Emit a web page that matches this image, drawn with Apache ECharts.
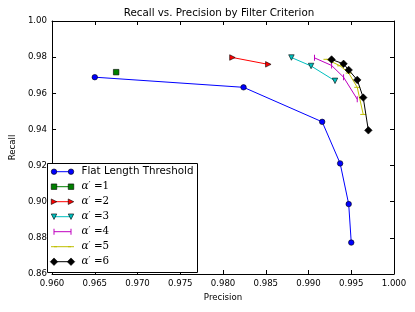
<!DOCTYPE html>
<html>
<head>
<meta charset="utf-8">
<script src="https://cdn.jsdelivr.net/npm/echarts@6/dist/echarts.min.js"></script>
<style>html,body{margin:0;padding:0;background:#fff}#c{width:415px;height:312px}</style>
</head>
<body>
<div id="c"></div>
<script>
// ---- data ----
const xTicks = [0.960, 0.965, 0.970, 0.975, 0.980, 0.985, 0.990, 0.995, 1.000];
const yTicks = [0.86, 0.88, 0.90, 0.92, 0.94, 0.96, 0.98, 1.00];
const seriesNames = ['Flat Length Threshold', "α′ =1", "α′ =2", "α′ =3", "α′ =4", "α′ =5", "α′ =6"];
const precisionFlat = [0.9650, 0.9824, 0.9916, 0.9937, 0.9947, 0.9950];
const recallFlat    = [0.9689, 0.9633, 0.9442, 0.9212, 0.8987, 0.8774];
const precisionA1 = [0.9675];
const recallA1    = [0.9717];
const precisionA2 = [0.9811, 0.9853];
const recallA2    = [0.9798, 0.9760];
const precisionA3 = [0.9880, 0.9903, 0.9931];
const recallA3    = [0.9798, 0.9751, 0.9669];
const precisionA4 = [0.9907, 0.9927, 0.9941, 0.9957];
const recallA4    = [0.9796, 0.9754, 0.9689, 0.9567];
const precisionA5 = [0.9921, 0.9937, 0.9947, 0.9957, 0.9964];
const recallA5    = [0.9788, 0.9752, 0.9712, 0.9633, 0.9483];
const precisionA6 = [0.9927, 0.9941, 0.9947, 0.9957, 0.9964, 0.9970];
const recallA6    = [0.9787, 0.9763, 0.9729, 0.9674, 0.9576, 0.9395];

const allX = [precisionFlat, precisionA1, precisionA2, precisionA3, precisionA4, precisionA5, precisionA6];
const allY = [recallFlat, recallA1, recallA2, recallA3, recallA4, recallA5, recallA6];

// ---- styles ----
const colors = ['#0000ff', '#008000', '#ff0000', '#00bfbf', '#bf00bf', '#bfbf00', '#000000'];
const symbols = ['circle', 'rect', 'path://M0,0L10,5L0,10Z', 'path://M0,0L10,0L5,10Z', 'rect', 'rect', 'diamond'];
const symSizes = [5.5, 5.5, 5.5, 5.5, [1, 6], [6, 1], 7.5];
const borders = [0.6, 0.6, 0.6, 0.6, 0, 0, 0.6];

const zip = (a, b) => a.map((v, i) => [v, b[i]]);

const series = allX.map((xs, i) => ({
  name: seriesNames[i],
  type: 'line',
  data: zip(xs, allY[i]),
  symbol: symbols[i],
  symbolSize: symSizes[i],
  showSymbol: true,
  animation: false,
  lineStyle: { color: colors[i], width: 1 },
  itemStyle: { color: colors[i], borderColor: '#000', borderWidth: borders[i] },
  z: 2 + i
}));

const FONT = 'DejaVu Sans';
const axisCommon = {
  type: 'value',
  axisLine: { show: true, onZero: false, lineStyle: { color: '#000', width: 1 } },
  axisTick: { show: true, inside: true, length: 4, lineStyle: { color: '#000', width: 1 } },
  splitLine: { show: false },
};

// ---- legend drawn as graphics ----
const legLeft = 47.5, legTop = 163.5, legW = 150, legH = 109;
const rowY0 = 171.7, rowGap = 15;
const graphics = [{
  type: 'rect', shape: { x: legLeft, y: legTop, width: legW, height: legH },
  style: { fill: '#fff', stroke: '#000', lineWidth: 1 }, z: 100
}];
seriesNames.forEach((name, i) => {
  const y = rowY0 + i * rowGap;
  graphics.push({ type: 'line', shape: { x1: 54, y1: y, x2: 71, y2: y },
    style: { stroke: colors[i], lineWidth: 1 }, z: 101 });
  [54, 71].forEach(cx => {
    const sz = symSizes[i];
    const w = Array.isArray(sz) ? sz[0] : sz, h = Array.isArray(sz) ? sz[1] : sz;
    let el;
    if (i === 0) el = { type: 'circle', shape: { cx: cx, cy: y, r: 2.75 } };
    else if (i === 1 || i === 4 || i === 5) el = { type: 'rect', shape: { x: cx - w / 2, y: y - h / 2, width: w, height: h } };
    else if (i === 2) el = { type: 'polygon', shape: { points: [[cx - 2.75, y - 2.75], [cx + 2.75, y], [cx - 2.75, y + 2.75]] } };
    else if (i === 3) el = { type: 'polygon', shape: { points: [[cx - 2.75, y - 2.75], [cx + 2.75, y - 2.75], [cx, y + 2.75]] } };
    else el = { type: 'polygon', shape: { points: [[cx, y - 3.75], [cx + 3.75, y], [cx, y + 3.75], [cx - 3.75, y]] } };
    el.style = { fill: colors[i], stroke: borders[i] ? '#000' : null, lineWidth: borders[i] };
    el.z = 102;
    graphics.push(el);
  });
  if (i === 0) {
    graphics.push({ type: 'text', x: 81.5, y: y, z: 103,
      style: { text: name, font: '10.3px "DejaVu Sans"', fill: '#000', verticalAlign: 'middle' } });
  } else {
    const num = name.split('=')[1];
    graphics.push({ type: 'text', x: 81.5, y: y, z: 103,
      style: { text: '{a|α}{p|′} {e|=' + num + '}', verticalAlign: 'middle', fill: '#000',
        rich: {
          a: { fontFamily: 'DejaVu Serif', fontStyle: 'italic', fontSize: 10.5, fill: '#000' },
          p: { fontFamily: 'DejaVu Serif', fontSize: 9, fill: '#000', verticalAlign: 'top', padding: [0, 0, 3, 0] },
          e: { fontFamily: 'DejaVu Serif', fontSize: 10.3, fill: '#000' }
        } } });
  }
});

const chart = echarts.init(document.getElementById('c'), null, { renderer: 'canvas' });
chart.setOption({
  animation: false,
  backgroundColor: '#fff',
  title: {
    text: 'Recall vs. Precision by Filter Criterion',
    left: 219, top: 8, padding: 0, textAlign: 'center',
    textStyle: { fontFamily: FONT, fontSize: 10.3, fontWeight: 'normal', color: '#000' }
  },
  grid: { left: 43, right: 21, top: 21, bottom: 38, containLabel: false },
  xAxis: [
    Object.assign({}, axisCommon, {
      position: 'bottom', min: xTicks[0], max: xTicks[xTicks.length - 1], interval: 0.005,
      name: 'Precision', nameLocation: 'middle', nameGap: 17,
      nameTextStyle: { fontFamily: FONT, fontSize: 8.6, color: '#000', verticalAlign: 'top' },
      axisLabel: { show: true, margin: 5, fontFamily: FONT, fontSize: 8.6, color: '#000',
        formatter: v => v.toFixed(3) }
    }),
    Object.assign({}, axisCommon, {
      position: 'top', min: xTicks[0], max: xTicks[xTicks.length - 1], interval: 0.005,
      axisLabel: { show: false }
    })
  ],
  yAxis: [
    Object.assign({}, axisCommon, {
      position: 'left', min: yTicks[0], max: yTicks[yTicks.length - 1], interval: 0.02,
      name: 'Recall', nameLocation: 'middle', nameGap: 26, nameRotate: 90,
      nameTextStyle: { fontFamily: FONT, fontSize: 8.6, color: '#000' },
      axisLabel: { show: true, margin: 5, fontFamily: FONT, fontSize: 8.6, color: '#000',
        formatter: v => v.toFixed(2) }
    }),
    Object.assign({}, axisCommon, {
      position: 'right', min: yTicks[0], max: yTicks[yTicks.length - 1], interval: 0.02,
      axisLabel: { show: false }
    })
  ],
  series: series,
  graphic: graphics
});
</script>
</body>
</html>
